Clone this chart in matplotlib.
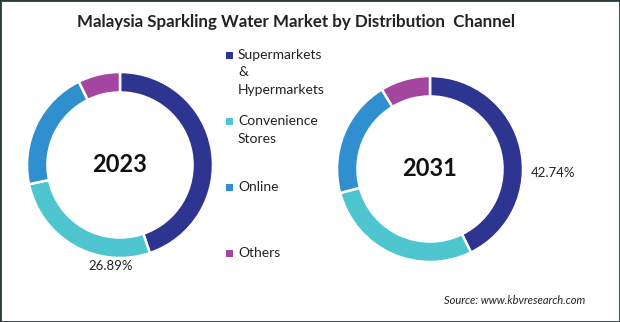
import matplotlib.pyplot as plt
from matplotlib.patches import Rectangle

# data
channels = ["Supermarkets\n&\nHypermarkets", "Convenience\nStores", "Online", "Others"]
share_2023 = [44.8, 26.89, 21.0, 7.31]
share_2031 = [42.74, 28.1, 20.5, 8.66]
colors = ["#2e3591", "#4fc5cf", "#2f8fcf", "#a4469f"]

W, H = 620, 322
fig = plt.figure(figsize=(W / 100, H / 100), dpi=100)
plt.rcParams['font.family'] = ['Lato', 'DejaVu Sans']


def px_axes(cx, cy, r):
    # axes box in pixel coords (y from top), square around the donut
    return fig.add_axes([(cx - r) / W, 1 - (cy + r) / H, 2 * r / W, 2 * r / H])


def donut(ax, values, year, label_idx, label_xy):
    ax.pie(values, colors=colors, startangle=90, counterclock=False,
           radius=1.0, wedgeprops=dict(width=0.22, edgecolor="white", linewidth=1.8))
    ax.set_xlim(-1, 1)
    ax.set_ylim(-1, 1)
    ax.set_aspect("equal")
    ax.axis("off")
    ax.text(0, 0, year, ha="center", va="center", fontsize=17, fontweight="bold",
            color="#111111")
    fig.text(label_xy[0] / W, 1 - label_xy[1] / H, f"{values[label_idx]:.2f}%",
             ha="center", va="center", fontsize=9.5, color="#222222")


donut(px_axes(120, 165, 93), share_2023, "2023", 1, (111, 266))
donut(px_axes(430, 169, 93), share_2031, "2031", 0, (553, 173))

fig.text(296 / W, 1 - 22 / H, "Malaysia Sparkling Water Market by Distribution  Channel",
         ha="center", va="center", fontsize=12.2, fontweight="bold", color="#222222")

# legend
legend_y = [55, 121, 187, 253]
for name, col, y in zip(channels, colors, legend_y):
    fig.patches.append(Rectangle((226 / W, 1 - (y + 3.5) / H), 7 / W, 7 / H,
                                 transform=fig.transFigure, facecolor=col, edgecolor="none"))
    fig.text(238 / W, 1 - (y - 6) / H, name, ha="left", va="top", fontsize=10,
             color="#222222", linespacing=1.55)

fig.text(515 / W, 1 - 300 / H, "Source: www.kbvresearch.com", ha="center", va="center",
         fontsize=8, style="italic", color="#222222")

# thin frame round the picture
fig.patches.append(Rectangle((0, 0), 1, 1, transform=fig.transFigure, fill=False,
                             edgecolor="#2b3a3a", linewidth=2))

fig.savefig("out.png", dpi=100, facecolor="white")
